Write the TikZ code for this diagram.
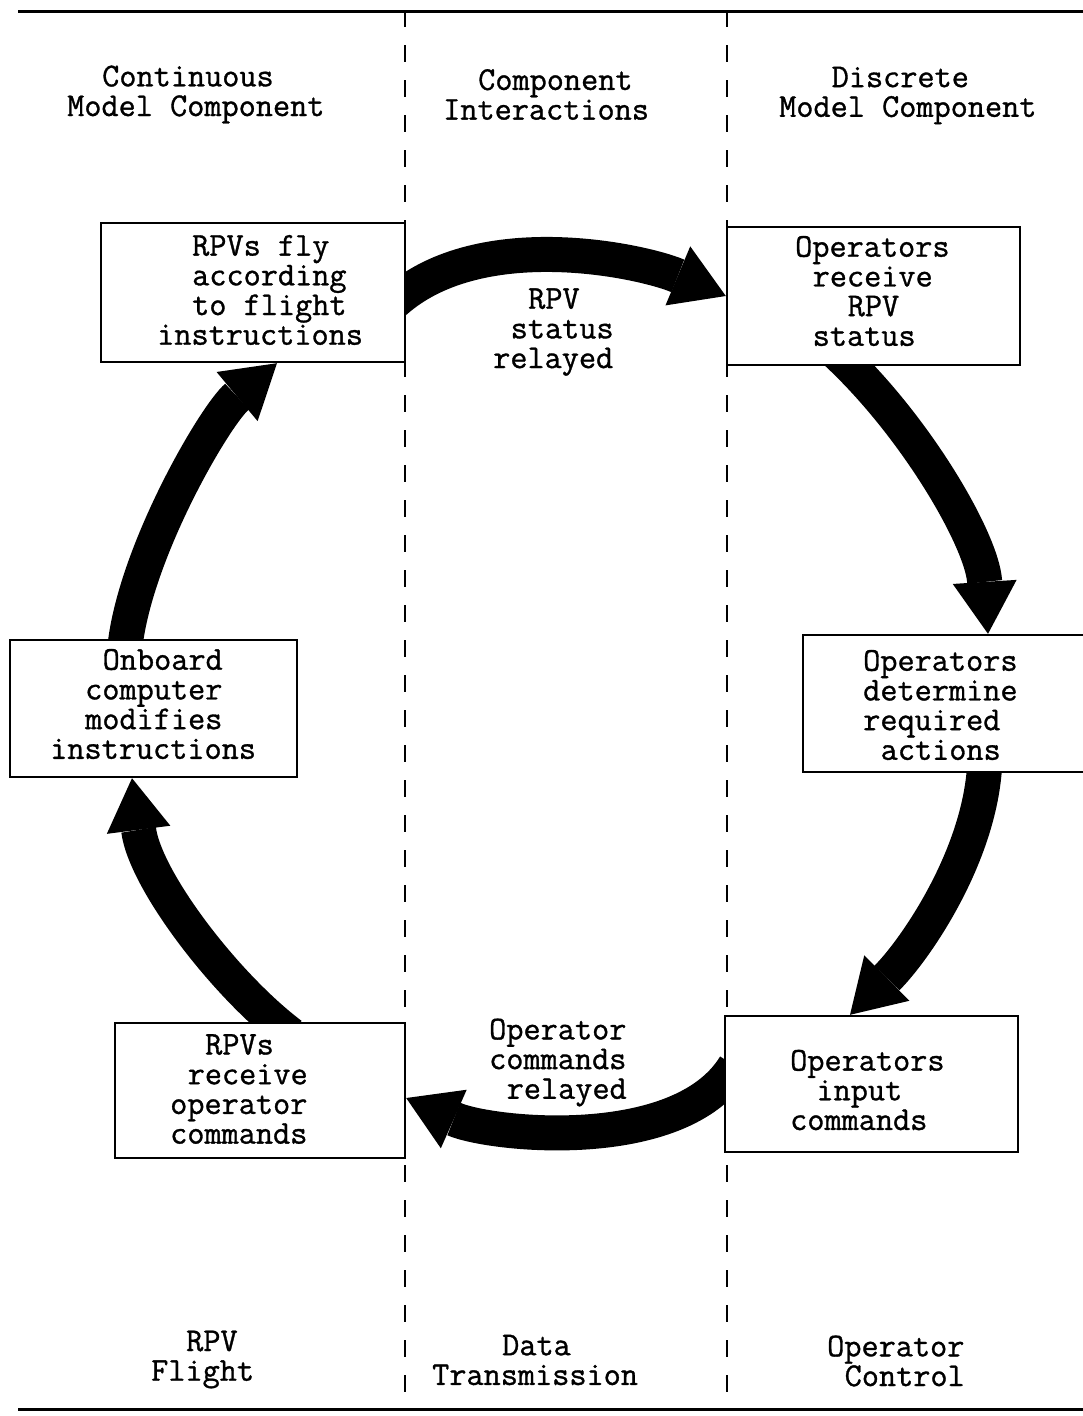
\documentclass[tikz,border=0pt]{standalone}
\usepackage{fontspec}
\newfontfamily\tw{lmmono12-regular.otf}[FakeBold=1]
\usetikzlibrary{arrows.meta,calc}
\pgfdeclarelayer{bg}
\pgfsetlayers{bg,main}
\newlength\cw
\setlength\cw{17.5pt}
\newcommand\ind[1]{\hspace*{#1\cw}}
\begin{document}
\begin{tikzpicture}[x=1pt,y=-1pt,
  box/.style={draw,line width=2.4pt,fill=white,inner sep=0pt},
  txt/.style={font=\fontsize{33.3}{29.7}\selectfont\tw,align=left,inner sep=0pt,anchor=west},
  flow/.style={line width=35pt,-{Triangle[length=52pt,width=64pt,line width=0pt]}},
  sep/.style={line width=2.4pt,dash pattern=on 17pt off 18pt},
  rule/.style={line width=3pt}]
\useasboundingbox (0,0) rectangle (1083,1416);

% boxes
\node[box,minimum width=304pt,minimum height=139pt] (b1) at (253,292.5) {};
\node[box,minimum width=293pt,minimum height=138pt] (b2) at (873.5,296) {};
\node[box,minimum width=292pt,minimum height=137pt] (b3) at (949,703.5) {};
\node[box,minimum width=293pt,minimum height=136pt] (b4) at (871.5,1084) {};
\node[box,minimum width=290pt,minimum height=135pt] (b5) at (260,1090.5) {};
\node[box,minimum width=287pt,minimum height=137pt] (b6) at (153.5,708.5) {};

% box texts
\node[txt] (t1) at (157,290) {\ind2RPVs fly\\\ind2according\\\ind2to flight\\instructions};
\node[txt] (t2) at (795,291) {Operators\\\ind1receive\\\ind3RPV\\\ind1status};
\node[txt] (t3) at (863,705) {Operators\\determine\\required\\\ind1actions};
\node[txt] (t4) at (790,1090) {Operators\\\ind{1.5}input\\commands};
\node[txt] (t5) at (170,1089) {\ind2RPVs\\\ind1receive\\operator\\commands};
\node[txt] (t6) at (50,704) {\ind3Onboard\\\ind2computer\\\ind2modifies\\instructions};

% interaction labels
\node[txt] (m1) at (493,332) {\ind2RPV\\\ind1status\\relayed};
\node[txt] (m2) at (489,1062.5) {Operator\\commands\\\ind1relayed};

% headers
\node[txt] (h1) at (67,94.5) {\ind2Continuous\\Model Component};
\node[txt] (h2) at (443,94.5) {\ind2Component\\Interactions};
\node[txt] (h3) at (779,95.5) {\ind3Discrete\\Model Component};

% footers
\node[txt] (f1) at (151,1359.5) {\ind2RPV\\Flight};
\node[txt] (f2) at (432,1360) {\ind4Data\\Transmission};
\node[txt] (f3) at (827,1361) {Operator\\\ind1Control};

% arrow end points
\coordinate (a1s) at ([xshift=-15pt,yshift=-12.5pt]b1.east);
\coordinate (a2s) at ([xshift=-38.5pt,yshift=15pt]b2.south);
\coordinate (a2e) at ([xshift=39pt]b3.north);
\coordinate (a3s) at ([xshift=36pt,yshift=20pt]b3.south);
\coordinate (a3e) at ([xshift=-21.5pt]b4.north);
\coordinate (a4s) at ([xshift=11pt,yshift=18pt]b4.west);
\coordinate (a4e) at ([yshift=-7.5pt]b5.east);
\coordinate (a5s) at ([xshift=31pt,yshift=-13pt]b5.north);
\coordinate (a5e) at ([xshift=-21.5pt]b6.south);
\coordinate (a6s) at ([xshift=-29.5pt,yshift=-18pt]b6.north);
\coordinate (a6e) at ([xshift=24pt]b1.south);

\begin{pgfonlayer}{bg}
  \fill[white] (0,0) rectangle (1083,1416);
  \draw[sep] (405,10) -- (405,1410);
  \draw[sep] (727,10) -- (727,1410);
  \draw[rule] (18,11) -- (1083,11);
  \draw[rule] (18,1409) -- (1083,1409);
  \draw[flow] (a1s) .. controls (475,225) and (640,260) .. (b2.west);
  \draw[flow] (a2s) .. controls (915,425) and (982,540) .. (a2e);
  \draw[flow] (a3s) .. controls (985,850) and (915,950) .. (a3e);
  \draw[flow] (a4s) .. controls (680,1155) and (490,1135) .. (a4e);
  \draw[flow] (a5s) .. controls (225,985) and (145,880) .. (a5e);
  \draw[flow] (a6s) .. controls (130,560) and (215,415) .. (a6e);
\end{pgfonlayer}
\end{tikzpicture}
\end{document}
